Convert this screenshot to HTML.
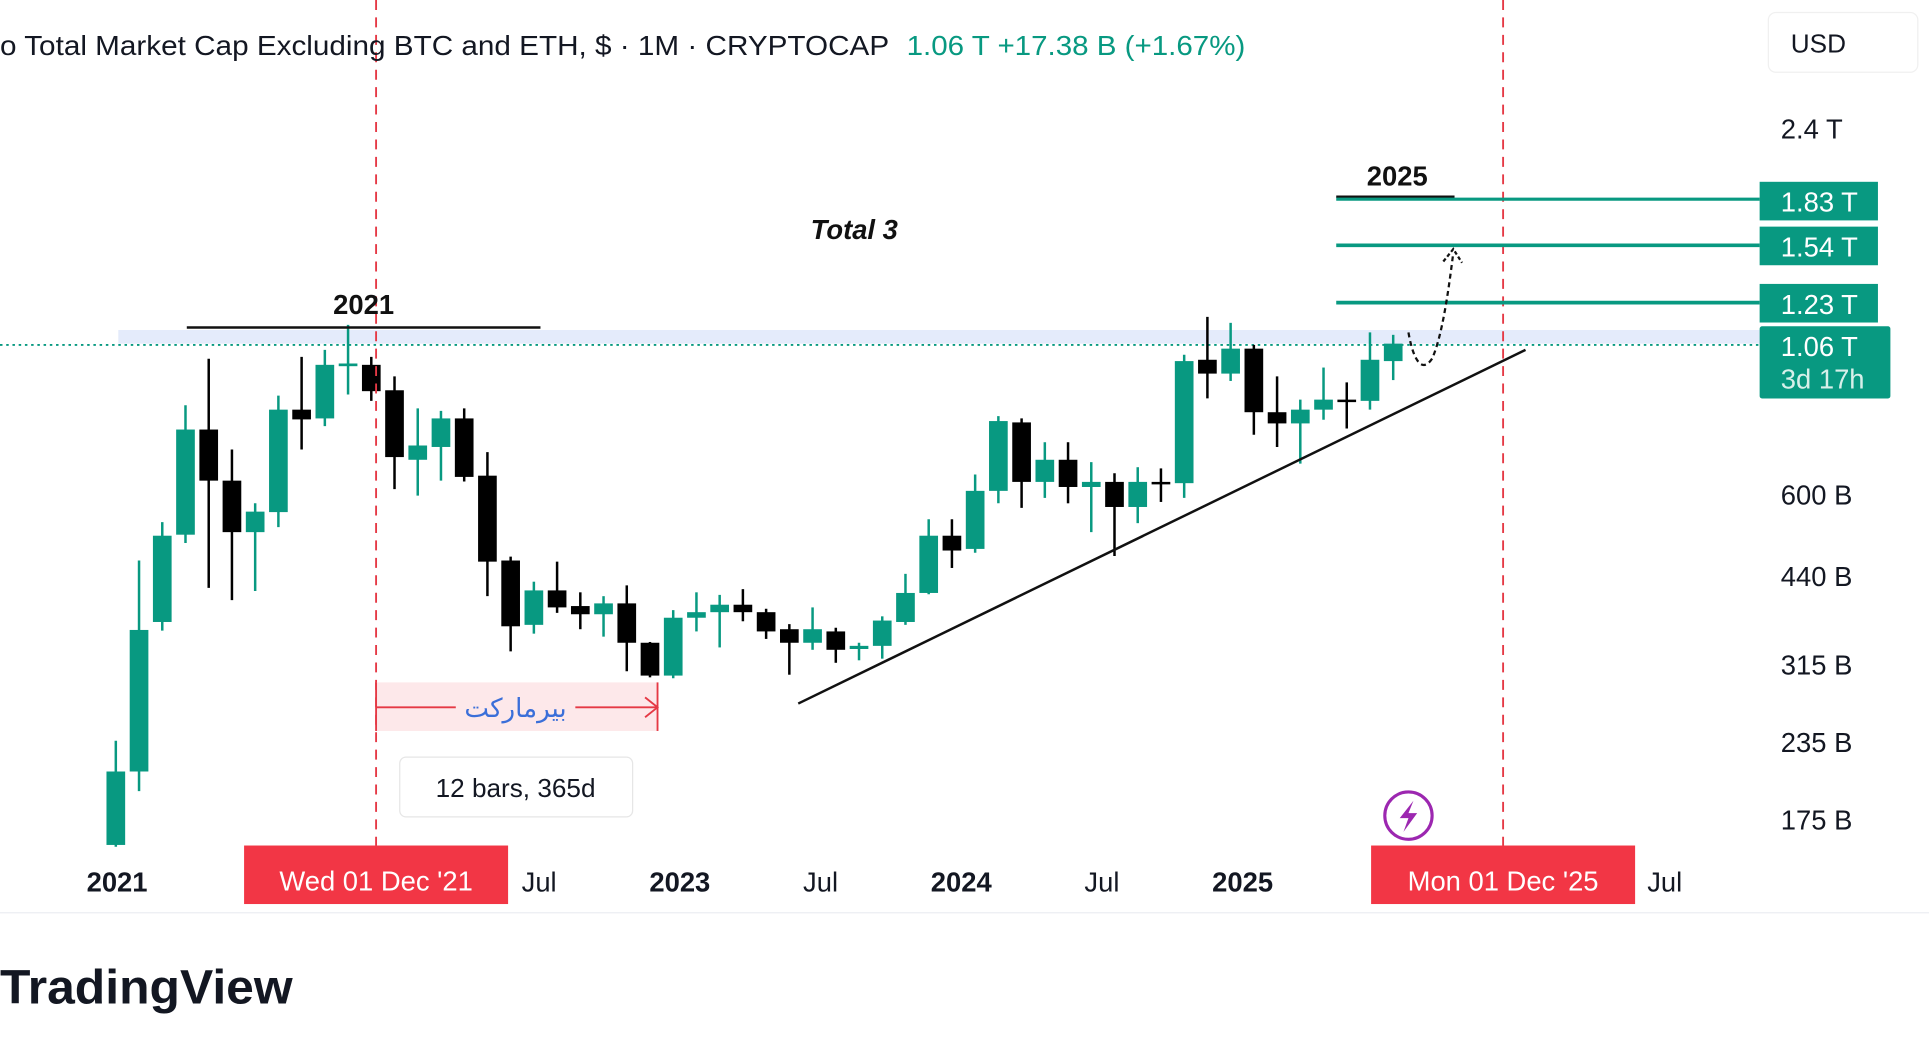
<!DOCTYPE html>
<html><head><meta charset="utf-8"><style>
html,body{margin:0;padding:0;background:#fff;overflow:hidden}
svg{display:block;font-family:"Liberation Sans",sans-serif}
</style></head><body>
<svg id="chart" width="1929" height="1046" viewBox="0 0 1549 840" preserveAspectRatio="none" xmlns="http://www.w3.org/2000/svg">
<defs><clipPath id="plotclip"><rect x="0" y="60" width="1413" height="620"/></clipPath></defs>
<rect width="1549" height="840" fill="#fff"/>
<rect x="95" y="265" width="1318" height="11" fill="#e4ebfb"/>
<line x1="0" y1="277" x2="1413" y2="277" stroke="#089981" stroke-width="1.5" stroke-dasharray="2,3"/>
<g id="candles" clip-path="url(#plotclip)"></g>
<line x1="302" y1="0" x2="302" y2="679" stroke="#e53945" stroke-width="1.5" stroke-dasharray="8,6"/>
<line x1="1207" y1="0" x2="1207" y2="679" stroke="#e53945" stroke-width="1.5" stroke-dasharray="8,6"/>
<line x1="641" y1="565" x2="1225" y2="281" stroke="#111" stroke-width="2"/>
<line x1="150" y1="263" x2="434" y2="263" stroke="#111" stroke-width="2"/>
<text x="292" y="252" font-size="22" font-weight="bold" text-anchor="middle" fill="#111">2021</text>
<text x="686" y="192" font-size="22" font-weight="bold" font-style="italic" text-anchor="middle" fill="#111">Total 3</text>
<line x1="1073" y1="158" x2="1168" y2="158" stroke="#111" stroke-width="2"/>
<text x="1122" y="149" font-size="22" font-weight="bold" text-anchor="middle" fill="#111">2025</text>
<line x1="1073" y1="160" x2="1413" y2="160" stroke="#089981" stroke-width="2.5"/>
<line x1="1073" y1="197" x2="1413" y2="197" stroke="#089981" stroke-width="3"/>
<line x1="1073" y1="243" x2="1413" y2="243" stroke="#089981" stroke-width="3"/>
<path d="M1131 267 C1135 290,1142 300,1150 288 C1158 270,1163 235,1167 203" fill="none" stroke="#111" stroke-width="1.8" stroke-dasharray="4,3"/>
<path d="M1159 210 L1167 200 L1174 211" fill="none" stroke="#111" stroke-width="1.8" stroke-dasharray="3,2"/>
<rect x="302" y="548" width="226" height="39" fill="#fde8ea"/>
<line x1="302" y1="548" x2="302" y2="587" stroke="#e53945" stroke-width="1.5"/>
<line x1="528" y1="548" x2="528" y2="587" stroke="#e53945" stroke-width="1.5"/>
<line x1="302" y1="568" x2="366" y2="568" stroke="#e53945" stroke-width="1.5"/>
<line x1="462" y1="568" x2="528" y2="568" stroke="#e53945" stroke-width="1.5"/>
<path d="M518 560 L528 568 L518 576" fill="none" stroke="#e53945" stroke-width="1.5"/>
<text x="414" y="576" font-size="21" text-anchor="middle" fill="#3b6fd9" font-family="'DejaVu Sans',sans-serif">بیرمارکت</text>
<rect x="321" y="608" width="187" height="48" rx="5" fill="#fff" stroke="#e6e6e6" stroke-width="1"/>
<text x="414" y="640" font-size="21" text-anchor="middle" fill="#131722">12 bars, 365d</text>
<circle cx="1131" cy="655" r="19" fill="#fff" stroke="#9c27b0" stroke-width="2.5"/>
<path d="M1135 643 L1124 657 L1131 657 L1127 668 L1138 653 L1131 653 Z" fill="#9c27b0"/>
<text x="0" y="44" font-size="22.5" fill="#131722" textLength="714" lengthAdjust="spacingAndGlyphs">o Total Market Cap Excluding BTC and ETH, $ · 1M · CRYPTOCAP</text>
<text x="728" y="44" font-size="22.5" fill="#089981" textLength="272" lengthAdjust="spacingAndGlyphs">1.06 T  +17.38 B (+1.67%)</text>
<rect x="1420" y="10" width="120" height="48" rx="6" fill="#fff" stroke="#f0f0f0"/>
<text x="1438" y="42" font-size="21" fill="#131722">USD</text>
<g id="yaxis"></g>
<g><rect x="1413" y="146" width="95" height="31" fill="#089981"/><text x="1430" y="170" font-size="22" fill="#fff">1.83 T</text></g>
<g><rect x="1413" y="182" width="95" height="31" fill="#089981"/><text x="1430" y="206" font-size="22" fill="#fff">1.54 T</text></g>
<g><rect x="1413" y="228" width="95" height="31" fill="#089981"/><text x="1430" y="252" font-size="22" fill="#fff">1.23 T</text></g>
<g><rect x="1413" y="262" width="105" height="58" rx="2" fill="#089981"/><text x="1430" y="286" font-size="22" fill="#fff">1.06 T</text><text x="1430" y="312" font-size="22" fill="#d7f0ea">3d 17h</text></g>
<g id="xaxis"></g>
<g><rect x="196" y="679" width="212" height="47" fill="#f23645"/><text x="302" y="715" font-size="22" fill="#fff" text-anchor="middle">Wed 01 Dec '21</text></g>
<g><rect x="1101" y="679" width="212" height="47" fill="#f23645"/><text x="1207" y="715" font-size="22" fill="#fff" text-anchor="middle">Mon 01 Dec '25</text></g>
<line x1="0" y1="733" x2="1549" y2="733" stroke="#eceef2" stroke-width="1"/>
<text x="0" y="806" font-size="39" font-weight="bold" fill="#131722" textLength="235" lengthAdjust="spacingAndGlyphs">TradingView</text>
</svg>
<script>
const opens  = [159,210,370,515,767,632,520,561,827,800,975,980,890,684,718,800,644,467,366,417,393,381,397,342,302,376,384,395,384,360,342,357,334,338,370,413,513,488,608,788,629,684,617,629,572,629,626,999,948,1042,819,785,827,859,855,994];
const highs  = [236,467,540,841,1003,711,580,872,1010,1037,1140,1010,938,831,823,831,704,474,431,465,414,408,425,343,387,414,410,419,389,367,391,362,342,378,444,546,546,647,807,800,731,731,678,650,665,662,1018,1175,1149,1057,938,859,970,917,1108,1098];
const lows   = [157,195,358,499,421,402,416,530,711,777,876,855,612,597,632,630,408,331,354,383,360,350,307,300,299,357,336,371,347,303,333,317,320,322,366,411,454,481,580,570,592,580,520,475,538,583,592,863,922,752,718,674,796,770,827,925];
const closes = [210,359,513,767,632,520,562,827,797,980,985,887,691,722,800,641,465,364,417,391,381,397,342,302,376,384,395,384,357,342,360,333,338,372,413,513,485,608,792,629,684,617,629,572,629,626,994,948,1042,819,785,827,859,855,999,1062];
const yTickLabels = ["2.4 T","600 B","440 B","315 B","235 B","175 B"];
const yTickValues = [2400,600,440,315,235,175];
const xTickLabels = ["2021","Jul","2023","Jul","2024","Jul","2025","Jul"];
const xTickMonths = [0,18,24,30,36,42,48,66];
const xTickBold = [true,false,true,false,true,false,true,false];

const NS="http://www.w3.org/2000/svg";
function yScale(p){return 397-212*Math.log(p/600);}
function xScale(i){return 93+18.65*i;}
function xTickPos(m){return 94+18.83*m;}
const cg=document.getElementById('candles');
for(let i=0;i<opens.length;i++){
  const up=closes[i]>=opens[i];
  const col=up?'#089981':'#000';
  const x=xScale(i);
  const w=document.createElementNS(NS,'line');
  
  
  w.setAttribute('x1',x);w.setAttribute('x2',x);
  w.setAttribute('y1',yScale(highs[i]));w.setAttribute('y2',yScale(lows[i]));
  w.setAttribute('stroke',col);w.setAttribute('stroke-width','2');
  cg.appendChild(w);
  const yo=yScale(opens[i]),yc=yScale(closes[i]);
  const b=document.createElementNS(NS,'rect');
  
  
  b.setAttribute('x',x-7.5);b.setAttribute('width',15);
  b.setAttribute('y',Math.min(yo,yc));b.setAttribute('height',Math.max(2,Math.abs(yo-yc)));
  b.setAttribute('fill',col);
  cg.appendChild(b);
}
const ya=document.getElementById('yaxis');
for(let i=0;i<yTickLabels.length;i++){
  const t=document.createElementNS(NS,'text');
  
  
  t.setAttribute('x',1430);t.setAttribute('y',yScale(yTickValues[i])+8);
  t.setAttribute('font-size','22');t.setAttribute('fill','#131722');
  t.textContent=yTickLabels[i];ya.appendChild(t);
}
const xa=document.getElementById('xaxis');
for(let i=0;i<xTickLabels.length;i++){
  const t=document.createElementNS(NS,'text');
  
  
  t.setAttribute('x',xTickPos(xTickMonths[i]));t.setAttribute('y',716);
  t.setAttribute('font-size','22');t.setAttribute('text-anchor','middle');
  t.setAttribute('fill','#131722');
  if(xTickBold[i])t.setAttribute('font-weight','bold');
  t.textContent=xTickLabels[i];xa.appendChild(t);
}
</script>
</body></html>
